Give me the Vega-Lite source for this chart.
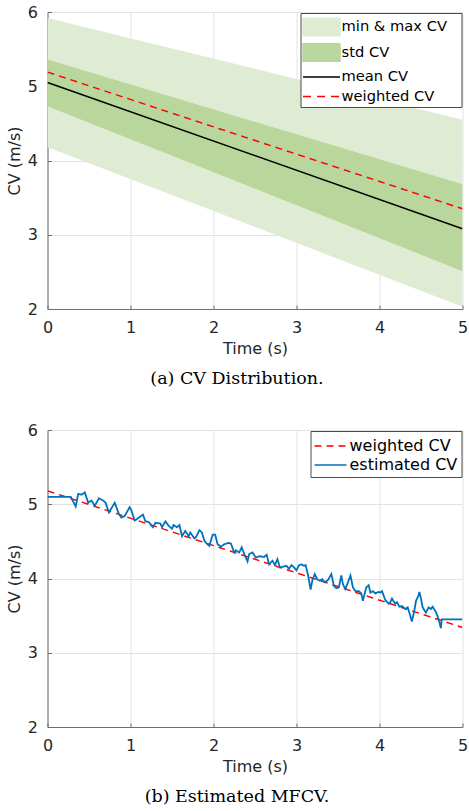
{
  "$schema": "https://vega.github.io/schema/vega-lite/v6.json",
  "background": "white",
  "padding": {"left": 5.5, "top": 4, "right": 0, "bottom": 4},
  "config": {
    "view": {"stroke": null},
    "font": "DejaVu Sans",
    "axis": {
      "labelFont": "DejaVu Sans", "labelFontSize": 16, "labelColor": "#262626", "labelFlush": false,
      "titleFont": "DejaVu Sans", "titleFontSize": 16, "titleFontWeight": "normal", "titleColor": "#262626",
      "domainColor": "#6e6e6e", "tickColor": "#6e6e6e", "gridColor": "#e3e3e3",
      "tickSize": -4, "labelPadding": 14, "titlePadding": 5
    },
    "title": {"font": "DejaVu Serif", "fontSize": 17.5, "fontWeight": "normal", "orient": "bottom", "anchor": "middle", "frame": "bounds", "color": "black", "offset": 14}
  },
  "datasets": {
    "dist": [
      {"t": 0, "minv": 4.18, "maxv": 5.92, "stdlo": 4.73, "stdhi": 5.36, "mean": 5.05, "weighted": 5.19},
      {"t": 5, "minv": 2.03, "maxv": 4.55, "stdlo": 2.51, "stdhi": 3.68, "mean": 3.08, "weighted": 3.35}
    ],
    "weighted": [
      {"t": 0, "v": 5.18},
      {"t": 5, "v": 3.34}
    ],
    "est": [
      {"t": 0, "v": 5.10}, {"t": 0.28, "v": 5.10}, {"t": 0.34, "v": 4.97}, {"t": 0.37, "v": 5.14}, {"t": 0.41, "v": 5.13},
      {"t": 0.45, "v": 5.16}, {"t": 0.49, "v": 5.02}, {"t": 0.53, "v": 5.05}, {"t": 0.57, "v": 4.98}, {"t": 0.62, "v": 5.08},
      {"t": 0.67, "v": 5.05}, {"t": 0.70, "v": 5.02}, {"t": 0.74, "v": 4.89}, {"t": 0.81, "v": 5.02}, {"t": 0.86, "v": 4.87},
      {"t": 0.89, "v": 4.82}, {"t": 0.93, "v": 4.84}, {"t": 0.99, "v": 4.96}, {"t": 1.01, "v": 4.92}, {"t": 1.05, "v": 4.78},
      {"t": 1.10, "v": 4.82}, {"t": 1.15, "v": 4.86}, {"t": 1.18, "v": 4.77}, {"t": 1.22, "v": 4.76}, {"t": 1.27, "v": 4.69},
      {"t": 1.30, "v": 4.75}, {"t": 1.36, "v": 4.74}, {"t": 1.38, "v": 4.69}, {"t": 1.42, "v": 4.77}, {"t": 1.46, "v": 4.71},
      {"t": 1.50, "v": 4.67}, {"t": 1.52, "v": 4.72}, {"t": 1.56, "v": 4.69}, {"t": 1.59, "v": 4.72}, {"t": 1.62, "v": 4.57},
      {"t": 1.66, "v": 4.64}, {"t": 1.70, "v": 4.57}, {"t": 1.72, "v": 4.62}, {"t": 1.77, "v": 4.54}, {"t": 1.79, "v": 4.56},
      {"t": 1.83, "v": 4.65}, {"t": 1.86, "v": 4.62}, {"t": 1.89, "v": 4.51}, {"t": 1.91, "v": 4.48}, {"t": 1.95, "v": 4.44},
      {"t": 1.99, "v": 4.59}, {"t": 2.02, "v": 4.59}, {"t": 2.05, "v": 4.46}, {"t": 2.09, "v": 4.43}, {"t": 2.13, "v": 4.46},
      {"t": 2.18, "v": 4.48}, {"t": 2.21, "v": 4.47}, {"t": 2.25, "v": 4.35}, {"t": 2.27, "v": 4.38}, {"t": 2.31, "v": 4.35},
      {"t": 2.34, "v": 4.42}, {"t": 2.37, "v": 4.33}, {"t": 2.41, "v": 4.23}, {"t": 2.43, "v": 4.33}, {"t": 2.47, "v": 4.35},
      {"t": 2.51, "v": 4.28}, {"t": 2.55, "v": 4.30}, {"t": 2.61, "v": 4.29}, {"t": 2.64, "v": 4.32}, {"t": 2.67, "v": 4.19},
      {"t": 2.71, "v": 4.24}, {"t": 2.74, "v": 4.18}, {"t": 2.77, "v": 4.26}, {"t": 2.80, "v": 4.15}, {"t": 2.84, "v": 4.16},
      {"t": 2.88, "v": 4.17}, {"t": 2.91, "v": 4.13}, {"t": 2.94, "v": 4.18}, {"t": 2.97, "v": 4.15}, {"t": 3.00, "v": 4.11},
      {"t": 3.03, "v": 4.18}, {"t": 3.06, "v": 4.19}, {"t": 3.09, "v": 4.17}, {"t": 3.11, "v": 4.18}, {"t": 3.14, "v": 4.04},
      {"t": 3.17, "v": 3.85}, {"t": 3.19, "v": 3.97}, {"t": 3.22, "v": 4.06}, {"t": 3.25, "v": 3.99}, {"t": 3.28, "v": 3.97},
      {"t": 3.31, "v": 3.99}, {"t": 3.34, "v": 3.95}, {"t": 3.38, "v": 3.98}, {"t": 3.42, "v": 4.06}, {"t": 3.45, "v": 3.90},
      {"t": 3.48, "v": 3.87}, {"t": 3.51, "v": 3.88}, {"t": 3.54, "v": 4.04}, {"t": 3.56, "v": 3.92}, {"t": 3.59, "v": 3.86},
      {"t": 3.62, "v": 3.95}, {"t": 3.65, "v": 4.04}, {"t": 3.68, "v": 3.88}, {"t": 3.71, "v": 3.83}, {"t": 3.75, "v": 3.83},
      {"t": 3.78, "v": 3.80}, {"t": 3.80, "v": 3.70}, {"t": 3.84, "v": 3.88}, {"t": 3.87, "v": 3.91}, {"t": 3.89, "v": 3.81},
      {"t": 3.92, "v": 3.83}, {"t": 3.95, "v": 3.80}, {"t": 3.99, "v": 3.82}, {"t": 4.01, "v": 3.81}, {"t": 4.03, "v": 3.83},
      {"t": 4.07, "v": 3.71}, {"t": 4.11, "v": 3.66}, {"t": 4.13, "v": 3.68}, {"t": 4.15, "v": 3.73}, {"t": 4.19, "v": 3.66},
      {"t": 4.21, "v": 3.68}, {"t": 4.24, "v": 3.62}, {"t": 4.27, "v": 3.63}, {"t": 4.31, "v": 3.59}, {"t": 4.34, "v": 3.61},
      {"t": 4.36, "v": 3.54}, {"t": 4.39, "v": 3.42}, {"t": 4.42, "v": 3.57}, {"t": 4.44, "v": 3.70}, {"t": 4.47, "v": 3.77},
      {"t": 4.48, "v": 3.82}, {"t": 4.50, "v": 3.73}, {"t": 4.52, "v": 3.61}, {"t": 4.56, "v": 3.54}, {"t": 4.59, "v": 3.61},
      {"t": 4.62, "v": 3.59}, {"t": 4.64, "v": 3.62}, {"t": 4.68, "v": 3.55}, {"t": 4.71, "v": 3.46}, {"t": 4.74, "v": 3.33},
      {"t": 4.75, "v": 3.45}, {"t": 5.0, "v": 3.45}
    ]
  },
  "vconcat": [
    {
      "width": 415,
      "height": 297,
      "title": {"text": "(a) CV Distribution."},
      "data": {"name": "dist"},
      "layer": [
        {
          "mark": {"type": "area", "opacity": 1, "clip": true},
          "encoding": {
            "x": {"field": "t", "type": "quantitative", "scale": {"domain": [0, 5], "nice": false}, "axis": {"values": [0, 1, 2, 3, 4, 5], "title": "Time (s)", "format": "d"}},
            "y": {"field": "minv", "type": "quantitative", "scale": {"domain": [2, 6], "nice": false}, "axis": {"values": [2, 3, 4, 5, 6], "title": "CV (m/s)", "format": "d"}},
            "y2": {"field": "maxv"},
            "strokeDash": {
              "datum": "min & max CV",
              "scale": {"domain": ["min & max CV", "std CV", "mean CV", "weighted CV"], "range": [[1, 0], [1, 0], [1, 0], [7, 5]]},
              "legend": null
            },
            "color": {
              "datum": "min & max CV",
              "scale": {"domain": ["min & max CV", "std CV", "mean CV", "weighted CV"], "range": ["#dfecd3", "#b9d69c", "#000000", "#ff0000"]},
              "legend": {
                "title": null, "orient": "top-right", "offset": 1,
                "fillColor": "white", "strokeColor": "#4a4a4a", "padding": 3,
                "symbolSize": 400, "symbolOffset": 7, "labelOffset": 9, "rowPadding": 1.5,
                "symbolOpacity": 1, "symbolStrokeWidth": 1.5,
                "symbolType": {"expr": "datum.value === 'min & max CV' || datum.value === 'std CV' ? 'M-1.85,-0.88H1.85V0.88H-1.85Z' : 'M-1.85,0H1.85'"},
                "symbolDash": {"expr": "datum.value === 'weighted CV' ? [8, 6] : [1, 0]"},
                "labelFont": "DejaVu Sans", "labelFontSize": 14.7, "labelColor": "black",
                "labelExpr": "datum.label + '\u2800'"
              }
            }
          }
        },
        {
          "mark": {"type": "area", "opacity": 1, "clip": true},
          "encoding": {
            "x": {"field": "t", "type": "quantitative"},
            "y": {"field": "stdlo", "type": "quantitative"},
            "y2": {"field": "stdhi"},
            "color": {"datum": "std CV"}
          }
        },
        {
          "mark": {"type": "line", "strokeWidth": 1.5, "clip": true},
          "encoding": {
            "x": {"field": "t", "type": "quantitative"},
            "y": {"field": "mean", "type": "quantitative"},
            "color": {"datum": "mean CV"}
          }
        },
        {
          "mark": {"type": "line", "strokeWidth": 1.5, "strokeDash": [7, 5], "clip": true},
          "encoding": {
            "x": {"field": "t", "type": "quantitative"},
            "y": {"field": "weighted", "type": "quantitative"},
            "color": {"datum": "weighted CV"}
          }
        }
      ]
    },
    {
      "width": 415,
      "height": 297,
      "title": {"text": "(b) Estimated MFCV."},
      "layer": [
        {
          "data": {"name": "weighted"},
          "mark": {"type": "line", "strokeWidth": 1.5, "clip": true},
          "encoding": {
            "x": {"field": "t", "type": "quantitative", "scale": {"domain": [0, 5], "nice": false}, "axis": {"values": [0, 1, 2, 3, 4, 5], "title": "Time (s)", "format": "d"}},
            "y": {"field": "v", "type": "quantitative", "scale": {"domain": [2, 6], "nice": false}, "axis": {"values": [2, 3, 4, 5, 6], "title": "CV (m/s)", "format": "d"}},
            "strokeDash": {
              "datum": "weighted CV",
              "scale": {"domain": ["weighted CV", "estimated CV"], "range": [[7, 5], [1, 0]]},
              "legend": null
            },
            "color": {
              "datum": "weighted CV",
              "scale": {"domain": ["weighted CV", "estimated CV"], "range": ["#ff0000", "#0072bd"]},
              "legend": {
                "title": null, "orient": "top-right", "offset": 1,
                "fillColor": "white", "strokeColor": "#4a4a4a", "padding": 4,
                "symbolSize": 400, "symbolOffset": 5, "labelOffset": 8, "rowPadding": 0,
                "symbolOpacity": 1, "symbolStrokeWidth": 1.5,
                "symbolType": "M-1.6,0H1.6",
                "symbolDash": {"expr": "datum.value === 'weighted CV' ? [7, 5] : [1, 0]"},
                "labelFont": "DejaVu Sans", "labelFontSize": 16, "labelColor": "black"
              }
            }
          }
        },
        {
          "data": {"name": "est"},
          "mark": {"type": "line", "strokeWidth": 1.8, "clip": true},
          "encoding": {
            "x": {"field": "t", "type": "quantitative"},
            "y": {"field": "v", "type": "quantitative"},
            "strokeDash": {"datum": "estimated CV"},
            "color": {"datum": "estimated CV"}
          }
        }
      ]
    }
  ],
  "spacing": 34,
  "resolve": {"scale": {"color": "independent", "strokeDash": "independent"}, "legend": {"color": "independent", "strokeDash": "independent"}}
}
